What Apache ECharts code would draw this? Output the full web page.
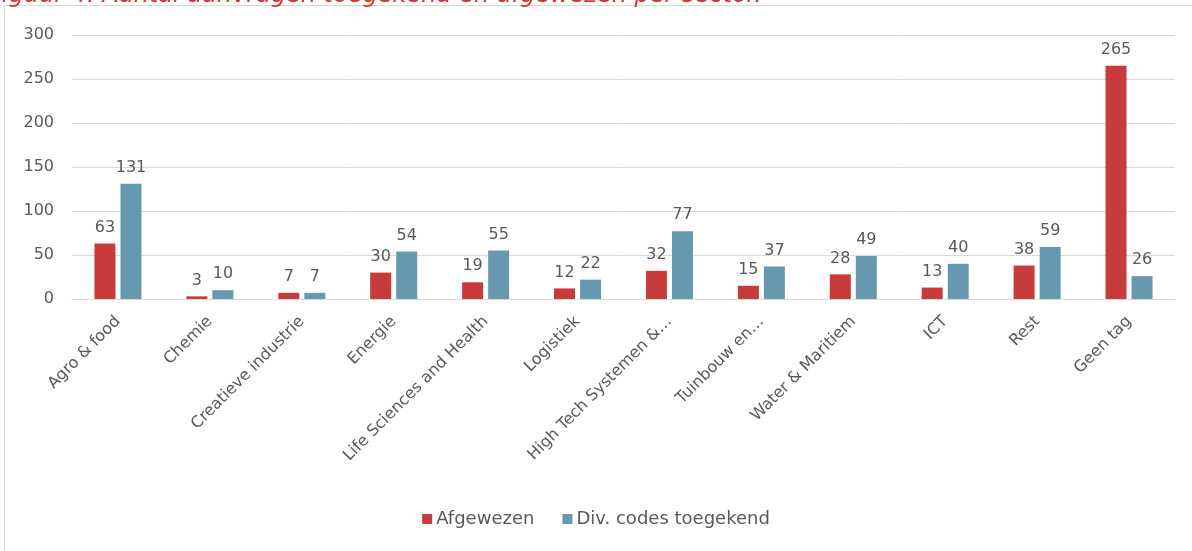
<!DOCTYPE html>
<html>
<head>
<meta charset="utf-8">
<script src="https://cdn.jsdelivr.net/npm/echarts@6/dist/echarts.min.js"></script>
<style>
  html, body { margin: 0; padding: 0; background: #fff; }
  #chart { width: 1192px; height: 551px; }
</style>
</head>
<body>
<div id="chart"></div>
<script>
// Aanvragen per topsector
const categories = [
  'Agro & food', 'Chemie', 'Creatieve industrie', 'Energie',
  'Life Sciences and Health', 'Logistiek', 'High Tech Systemen &…',
  'Tuinbouw en…', 'Water & Maritiem', 'ICT', 'Rest', 'Geen tag'
];
const afgewezen = [63, 3, 7, 30, 19, 12, 32, 15, 28, 13, 38, 265];
const toegekend = [131, 10, 7, 54, 55, 22, 77, 37, 49, 40, 59, 26];
const yTicks = { min: 0, max: 300, interval: 50 };

const FONT = '"DejaVu Sans", sans-serif';
const TXT = '#595959';

const chart = echarts.init(document.getElementById('chart'), null, { renderer: 'canvas' });

const labelStyle = {
  show: true,
  position: 'top',
  distance: 8,
  color: TXT,
  fontFamily: FONT,
  fontSize: 16
};

chart.setOption({
  animation: false,
  backgroundColor: '#fff',
  graphic: [
    {
      type: 'rect',
      shape: { x: 4.5, y: 5.5, width: 1200, height: 600 },
      style: { fill: 'none', stroke: '#d9d9d9', lineWidth: 1 },
      silent: true
    },
    {
      type: 'text',
      left: -12,
      top: -16,
      style: {
        text: 'Figuur 4: Aantal aanvragen toegekend en afgewezen per sector.',
        fill: '#d9342b',
        font: 'italic 24px ' + FONT
      },
      silent: true
    }
  ],
  grid: { left: 72, right: 17, top: 35, bottom: 252, containLabel: false },
  legend: {
    bottom: 18,
    left: 'center',
    itemWidth: 10,
    itemHeight: 10,
    itemGap: 28,
    icon: 'rect',
    textStyle: { color: TXT, fontFamily: FONT, fontSize: 18, padding: [0, 0, 0, -1] },
    data: ['Afgewezen', 'Div. codes toegekend']
  },
  xAxis: {
    type: 'category',
    data: categories,
    axisLine: { show: true, lineStyle: { color: '#d9d9d9', width: 1 } },
    axisTick: { show: false },
    axisLabel: {
      rotate: 45,
      interval: 0,
      color: TXT,
      fontFamily: FONT,
      fontSize: 16,
      margin: 20
    }
  },
  yAxis: {
    type: 'value',
    min: yTicks.min,
    max: yTicks.max,
    interval: yTicks.interval,
    axisLine: { show: false },
    axisTick: { show: false },
    splitLine: { lineStyle: { color: '#d9d9d9', width: 1 } },
    axisLabel: { color: TXT, fontFamily: FONT, fontSize: 16, margin: 18 }
  },
  series: [
    {
      name: 'Afgewezen',
      type: 'bar',
      data: afgewezen,
      barWidth: 21,
      barGap: '24%',
      itemStyle: { color: '#c83b3b' },
      label: labelStyle
    },
    {
      name: 'Div. codes toegekend',
      type: 'bar',
      data: toegekend,
      barWidth: 21,
      itemStyle: { color: '#6699b0' },
      label: labelStyle
    }
  ]
});
</script>
</body>
</html>
